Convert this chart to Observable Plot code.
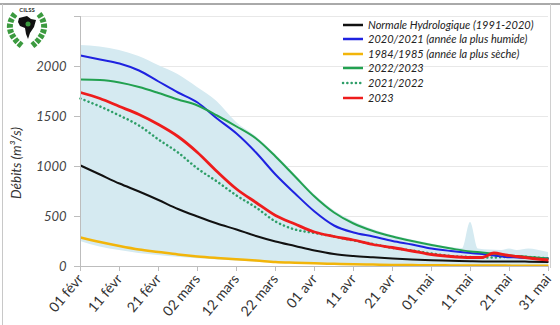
<!DOCTYPE html>
<html><head><meta charset="utf-8">
<script src="https://cdn.jsdelivr.net/npm/d3@7"></script>
<script src="https://cdn.jsdelivr.net/npm/@observablehq/plot@0.6"></script>
<style>
body{margin:0;background:#fff;}
#chart{position:relative;width:560px;height:325px;overflow:hidden;}
</style></head><body><div id="chart"></div>
<script>
// days since 01 févr (leap-year calendar, 10-day ticks)
const days = [0,5,10,15,20,25,30,35,40,45,50,55,60,65,70,75,80,85,90,95,100,103,106,109,112,115,120];
const normale  = [1010,920,830,750,665,575,500,430,370,305,250,205,160,125,105,92,80,70,63,58,52,50,50,50,50,48,45];
const humide   = [2110,2070,2030,1960,1850,1740,1640,1480,1330,1140,920,730,550,410,340,300,255,220,180,155,135,125,110,95,90,85,80];
const seche    = [290,245,205,170,145,120,100,85,72,60,45,38,32,27,22,19,16,14,12,11,10,10,9,9,8,8,8];
const y2223    = [1870,1865,1840,1795,1735,1670,1610,1510,1400,1280,1100,900,700,540,430,355,300,255,215,180,150,140,128,115,105,95,80];
const y2122    = [1680,1600,1510,1410,1270,1140,980,850,710,590,450,370,335,300,260,225,185,160,130,105,95,90,90,95,100,95,80];
const y2023    = [1740,1680,1600,1520,1420,1300,1140,950,775,640,510,425,345,300,265,220,190,155,120,100,90,90,135,115,100,85,65];

const bandDays = [0,5,10,15,20,25,30,35,40,45,50,55,60,65,70,75,80,85,90,95,98,100,102,105,108,110,112,115,117,120];
const bandMax  = [2210,2195,2160,2100,2010,1920,1790,1650,1440,1300,1120,920,720,560,450,370,310,265,225,190,180,440,175,165,160,175,160,175,165,140];
const bandMin  = [250,195,160,130,110,92,78,66,56,46,37,30,25,20,17,14,12,10,9,8,8,8,8,7,7,7,6,6,5,5];

const tickDays   = [0,10,20,30,40,50,60,70,80,90,100,110,120];
const tickLabels = ["01 févr","11 févr","21 févr","02 mars","12 mars","22 mars","01 avr","11 avr","21 avr","01 mai","11 mai","21 mai","31 mai"];
const yTicks = [0,500,1000,1500,2000,2500];

const seriesNames  = ["Normale Hydrologique (1991-2020)","2020/2021 (année la plus humide)","1984/1985 (année la plus sèche)","2022/2023","2021/2022","2023"];
const seriesValues = [normale, humide, seche, y2223, y2122, y2023];
const seriesColors = ["#111111","#1f22e0","#f2b50a","#22a150","#2e9e68","#ee1c1c"];
const seriesWidths = [2,2,2.5,2,2.5,2.8];
const seriesDash   = [null,null,null,null,"0.1,4.2",null];

const start = Date.UTC(2024,1,1);
const toDate = d => new Date(start + d*86400000);
const tickDates = tickDays.map(toDate);
const labelOf = new Map(tickDates.map((d,i)=>[+d, tickLabels[i]]));

const band = bandDays.map((d,i)=>({date: toDate(d), min: bandMin[i], max: bandMax[i]}));
const lineMarks = seriesValues.map((vals,k)=>{
  const rows = days.map((d,i)=>({date: toDate(d), v: vals[i]}));
  return Plot.lineY(rows, {x:"date", y:"v", stroke: seriesColors[k], strokeWidth: seriesWidths[k],
    strokeDasharray: seriesDash[k] || undefined, strokeLinecap: seriesDash[k] ? "round" : "butt", curve: "monotone-x"});
});
const order = [0,2,4,1,3,5];

const plot = Plot.plot({
  width: 560, height: 325,
  marginLeft: 80, marginRight: 12, marginTop: 16, marginBottom: 59,
  style: {fontFamily: "Lato, sans-serif", background: "transparent", overflow: "visible"},
  x: {type: "utc", domain: [toDate(0), toDate(120)]},
  y: {domain: [0, 2500]},
  marks: [
    Plot.gridY([500,1000,1500,2000,2500], {stroke: "#e8e8e8", strokeOpacity: 1}),
    Plot.areaY(band, {x:"date", y1:"min", y2:"max", fill:"#d5eaf1", curve:"monotone-x"}),
    ...order.map(k=>lineMarks[k]),
    Plot.frame({anchor:"left", stroke:"#bdbdbd"}),
    Plot.frame({anchor:"bottom", stroke:"#bdbdbd"}),
    Plot.axisY({ticks: yTicks, tickFormat: d => d===2500 ? "" : String(d), tickSize: 6, tickPadding: 8,
      fontSize: 13, fontStyle: "italic", color: "#444", stroke: "#bdbdbd", label: null}),
    Plot.axisX({ticks: tickDates, tickFormat: d => labelOf.get(+d), tickRotate: -50, tickSize: 5, tickPadding: 5,
      fontSize: 14, color: "#333", stroke: "#bdbdbd", label: null})
  ]
});
document.getElementById("chart").appendChild(plot);

const svg = d3.select(plot);
svg.append("text").attr("transform","translate(21,163) rotate(-90)")
  .attr("text-anchor","middle").attr("font-size",13.5).attr("font-style","italic").attr("fill","#333")
  .attr("font-family","Lato, sans-serif").text("Débits (m³/s)");

svg.append("line").attr("x1",0).attr("x2",560).attr("y1",4).attr("y2",4).attr("stroke","#555");
svg.append("line").attr("x1",2.5).attr("x2",2.5).attr("y1",4).attr("y2",325).attr("stroke","#c8c8c8");
svg.append("line").attr("x1",550.5).attr("x2",550.5).attr("y1",4).attr("y2",268).attr("stroke","#d0d0d0");

const lg = svg.append("g").attr("font-family","Lato, sans-serif").attr("font-size",11).attr("font-style","italic").attr("text-anchor","start");
const rowsY = [25,39,54,68,83,98];
seriesNames.forEach((name,k)=>{
  lg.append("line").attr("x1",343).attr("x2",363).attr("y1",rowsY[k]).attr("y2",rowsY[k])
    .attr("stroke",seriesColors[k]).attr("stroke-width",2.5)
    .attr("stroke-dasharray",seriesDash[k]?"0.1,4.2":null).attr("stroke-linecap",seriesDash[k]?"round":"butt");
  lg.append("text").attr("x",368).attr("y",rowsY[k]).attr("dy","0.35em").attr("text-anchor","start").attr("fill","#222").text(name);
});

const logo = svg.append("g");
logo.append("rect").attr("x",4).attr("y",5).attr("width",47).attr("height",44).attr("fill","#fff");
logo.append("path").attr("d","M15 14 Q2 30 22 46").attr("fill","none").attr("stroke","#3b9a3f").attr("stroke-width",6).attr("stroke-dasharray","4,1.5");
logo.append("path").attr("d","M39 14 Q52 30 32 46").attr("fill","none").attr("stroke","#3b9a3f").attr("stroke-width",6).attr("stroke-dasharray","4,1.5");
logo.append("path").attr("d","M19 18 L27 16 L31 19 L36 20 L34 27 L30 33 L28 39 L26 34 L25 28 L20 26 L18 22 Z").attr("fill","#111");
logo.append("circle").attr("cx",28).attr("cy",24).attr("r",2.5).attr("fill","#3b9a3f");
logo.append("text").attr("x",27).attr("y",12).attr("text-anchor","middle").attr("font-size",6).attr("font-weight","bold")
  .attr("fill","#333").attr("font-family","Lato, sans-serif").text("CILSS");
</script>
</body></html>
